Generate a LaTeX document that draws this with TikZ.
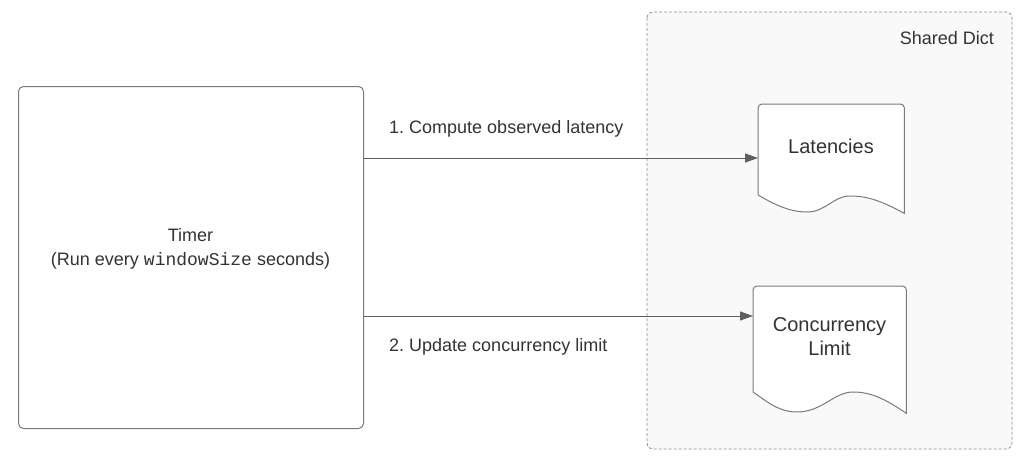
\documentclass[tikz,border=0pt]{standalone}
\usepackage{fontspec}
\setmainfont{Liberation Sans}
\setmonofont{Liberation Mono}
\usetikzlibrary{arrows.meta}
\definecolor{txt}{HTML}{333333}
\definecolor{edge}{HTML}{7A7A7A}
\definecolor{arr}{HTML}{5E5E5E}
\definecolor{panel}{HTML}{F9F9F9}
\tikzset{
  box/.style={draw=edge, line width=1pt, fill=white, rounded corners=5pt, inner sep=0pt},
  lbl/.style={text=txt, font=\fontsize{18}{24}\selectfont, inner sep=0pt},
  doctext/.style={text=txt, font=\fontsize{20}{24}\selectfont, inner sep=0pt, align=center},
  docline/.style={draw=edge, line width=1pt, fill=white},
  conn/.style={draw=arr, line width=1pt, -{Triangle[length=13pt,width=9pt]}},
  group/.style={draw=edge!85, dashed, dash pattern=on 3pt off 2pt, line width=0.8pt, fill=panel, rounded corners=6pt},
}
\frenchspacing
\begin{document}
\begin{tikzpicture}[x=1pt,y=-1pt]
\useasboundingbox (0,0) rectangle (1024,460);
\fill[white] (0,0) rectangle (1024,460);
% Shared Dict container
\draw[group] (647,12) rectangle (1012,449);
\node[lbl, anchor=east] (sd) at (994,38) {Shared Dict};
% Timer
\node[box, minimum width=345pt, minimum height=342pt, anchor=north west] (timer) at (18,86) {};
\node[lbl, align=center] (ttxt) at (190.5,249) {Timer\\(Run every \texttt{windowSize} seconds)};
% Latencies document
\node[inner sep=0pt, minimum width=146pt, minimum height=109pt, anchor=north west] (lat) at (758,104) {};
\draw[docline] [rounded corners=4pt] (lat.west |- 0,195) -- (lat.north west) -- (lat.north east) [sharp corners] -- (lat.south east)
  .. controls (880,200) and (866,196) .. (850,196)
  .. controls (833,196) and (826,212) .. (807,212)
  .. controls (788,212) and (772,203) .. (lat.west |- 0,195) -- cycle;
\node[doctext] (lattxt) at (831,146) {Latencies};
% Concurrency Limit document
\node[inner sep=0pt, minimum width=153pt, minimum height=127pt, anchor=north west] (cl) at (753,286) {};
\draw[docline] [rounded corners=4pt] (cl.west |- 0,392) -- (cl.north west) -- (cl.north east) [sharp corners] -- (cl.south east)
  .. controls (884,398) and (870,392) .. (853,392)
  .. controls (834,392) and (822,412) .. (797,412)
  .. controls (778,412) and (765,400) .. (cl.west |- 0,392) -- cycle;
\node[doctext] (cltxt) at (829.5,337) {Concurrency\\Limit};
% connectors
\coordinate (in1) at (lat.west |- 0,158);
\coordinate (in2) at (cl.west |- 0,316);
\draw[conn] (timer.east |- in1) -- (in1);
\draw[conn] (timer.east |- in2) -- (in2);
\node[lbl, anchor=west] (l1) at (389,129) {1. Compute observed latency};
\node[lbl, anchor=west] (l2) at (389,347) {2. Update concurrency limit};
\end{tikzpicture}
\end{document}
